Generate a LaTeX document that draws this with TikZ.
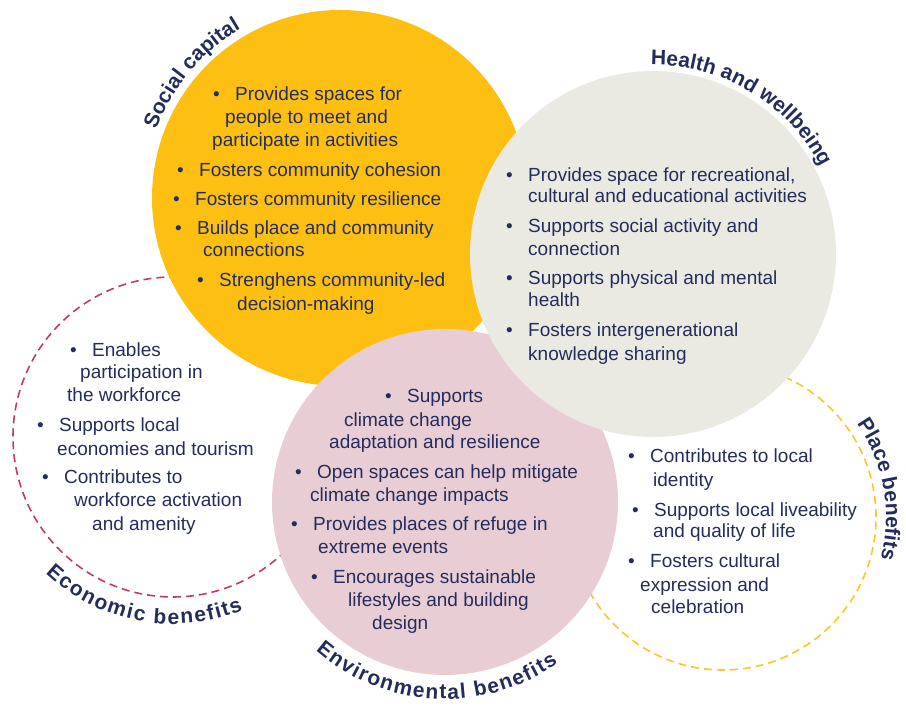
\documentclass[tikz,border=0pt]{standalone}
\usepackage{fontspec}
\setmainfont{Liberation Sans}
\usetikzlibrary{decorations.text}
\definecolor{colSocial}{RGB}{253,192,18}
\definecolor{colHealth}{RGB}{234,234,226}
\definecolor{colEnv}{RGB}{232,206,212}
\definecolor{colEcon}{RGB}{190,58,104}
\definecolor{colPlace}{RGB}{252,196,40}
\definecolor{colText}{RGB}{36,44,92}
\newcommand{\bul}{\makebox[22pt][l]{\textbullet}}
\newcommand{\lblfont}{\bfseries\fontsize{21}{21}\selectfont}
\tikzset{
  blob/.style={circle, inner sep=0pt, draw=none},
  ring/.style={circle, inner sep=0pt, line width=1.6pt, dash pattern=on 8pt off 5pt},
  item/.style={anchor=base west, inner sep=0pt, text=colText, font=\fontsize{19}{23}\selectfont},
  arcLabel/.style={decorate, decoration={text along path, text align=center, text={|\lblfont\color{colText}|#1}}},
  arcLabelFit/.style={decorate, decoration={text along path, text align=fit to path, text={|\lblfont\color{colText}|#1}}}
}

\begin{document}
\begin{tikzpicture}[x=1pt, y=1pt]
  \useasboundingbox (0,0) rectangle (906,708);

  % dashed rings go underneath
  \node[ring, draw=colEcon, minimum size=320pt] (econ) at (173,271) {};
  \node[ring, draw=colPlace, minimum size=306pt] (place) at (723,191) {};

  % filled circles, grey one on top
  \node[blob, fill=colSocial, minimum size=376pt] (soc) at (340,510) {};
  \node[blob, fill=colEnv, minimum size=346pt] (env) at (445,206) {};
  \node[blob, fill=colHealth, minimum size=366pt] (hlth) at (653,454) {};

  % curved titles
  \path[arcLabel=Social capital] (soc.center) ++(171:196) arc[start angle=171, end angle=109, radius=196];
  \path[arcLabel=Health and wellbeing] (hlth.center) ++(110:189) arc[start angle=110, end angle=8, radius=189];
  \path[arcLabel=Place benefits] (place.center) ++(50:163) arc[start angle=50, end angle=-30, radius=163];
  \path[arcLabelFit=Economic benefits] (econ.center) ++(227:187) arc[start angle=227, end angle=292, radius=187];
  \path[arcLabelFit=Environmental benefits] (env.center) ++(229:197) arc[start angle=229, end angle=305, radius=197];

  % social capital
  \foreach \x/\y/\t [count=\i] in {
      213/607/{\bul Provides spaces for}, 225/584/{people to meet and},
      212/561/{participate in activities}, 177/531/{\bul Fosters community cohesion},
      173/502/{\bul Fosters community resilience}, 175/473/{\bul Builds place and community},
      203/451/{connections}, 197/421/{\bul Strenghens community-led},
      237/397/{decision-making}}
    \node[item] (soc-\i) at (\x,\y) {\t};

  % health and wellbeing
  \foreach \x/\y/\t [count=\i] in {
      506/526/{\bul Provides space for recreational,}, 528/505/{cultural and educational activities},
      506/475/{\bul Supports social activity and}, 528/452/{connection},
      506/423/{\bul Supports physical and mental}, 528/401/{health},
      506/371/{\bul Fosters intergenerational}, 528/347/{knowledge sharing}}
    \node[item] (hlth-\i) at (\x,\y) {\t};

  % economic benefits
  \foreach \x/\y/\t [count=\i] in {
      70/351/{\bul Enables}, 80/329/{participation in}, 67/306/{the workforce},
      37/276/{\bul Supports local}, 57/252/{economies and tourism},
      42/224/{\bul Contributes to}, 74/201/{workforce activation}, 92/177/{and amenity}}
    \node[item] (econ-\i) at (\x,\y) {\t};

  % environmental benefits
  \foreach \x/\y/\t [count=\i] in {
      385/305/{\bul Supports}, 344/281/{climate change}, 329/259/{adaptation and resilience},
      295/229/{\bul Open spaces can help mitigate}, 310/206/{climate change impacts},
      291/177/{\bul Provides places of refuge in}, 318/154/{extreme events},
      311/124/{\bul Encourages sustainable}, 348/101/{lifestyles and building}, 372/78/{design}}
    \node[item] (env-\i) at (\x,\y) {\t};

  % place benefits
  \foreach \x/\y/\t [count=\i] in {
      628/245/{\bul Contributes to local}, 653/221/{identity},
      632/191/{\bul Supports local liveability}, 653/170/{and quality of life},
      628/140/{\bul Fosters cultural}, 640/116/{expression and}, 651/94/{celebration}}
    \node[item] (place-\i) at (\x,\y) {\t};

\end{tikzpicture}
\end{document}
